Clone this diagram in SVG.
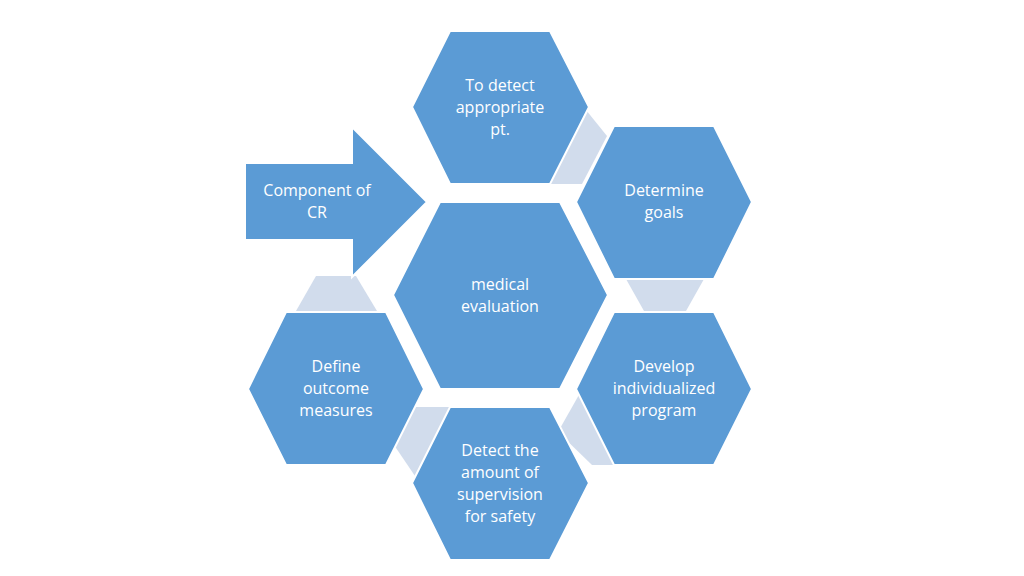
<svg xmlns="http://www.w3.org/2000/svg" width="1024" height="576" viewBox="0 0 1024 576">
<style>
.h{fill:#5B9BD5;stroke:#fff;stroke-width:2}
.c{fill:#D1DCEC}
text{font-family:"Open Sans","Liberation Sans",sans-serif;font-size:16px;fill:#fff;text-anchor:middle}
</style>
<rect width="1024" height="576" fill="#fff"/>
<g id="connectors">
<polygon class="c" points="586,110 607,136 582,184 550,184"/>
<polygon class="c" points="626,279 704,279 686,311 644,311"/>
<polygon class="c" points="580,393 614,465 592,465 558,432"/>
<polygon class="c" points="410,407 450,407 415,476 394,445"/>
<polygon class="c" points="316,276 356,276 377,311 296,311"/>
</g>
<g id="arrow"><polygon class="h" points="245,163 352,163 352,127 427,202 352,277 352,240 245,240"/><text x="317" y="196">Component of</text><text x="317" y="218">CR</text></g>
<g id="center"><polygon class="h" points="393,295 440,202 560,202 608,295 560,389 440,389"/><text x="500" y="290">medical</text><text x="500" y="312">evaluation</text></g>
<g id="top"><polygon class="h" points="412,107 450,31 550,31 589,107 550,184 450,184"/><text x="500" y="91">To detect</text><text x="500" y="113">appropriate</text><text x="500" y="135">pt.</text></g>
<g id="topright"><polygon class="h" points="576,202 614,126 714,126 752,202 714,279 614,279"/><text x="664" y="196">Determine</text><text x="664" y="218">goals</text></g>
<g id="bottomright"><polygon class="h" points="576,389 614,312 714,312 752,389 714,465 614,465"/><text x="664" y="372">Develop</text><text x="664" y="394">individualized</text><text x="664" y="416">program</text></g>
<g id="bottom"><polygon class="h" points="412,483 450,407 550,407 589,483 550,560 450,560"/><text x="500" y="456">Detect the</text><text x="500" y="478">amount of</text><text x="500" y="500">supervision</text><text x="500" y="522">for safety</text></g>
<g id="left"><polygon class="h" points="248,389 286,312 386,312 424,389 386,465 286,465"/><text x="336" y="372">Define</text><text x="336" y="394">outcome</text><text x="336" y="416">measures</text></g>
</svg>
